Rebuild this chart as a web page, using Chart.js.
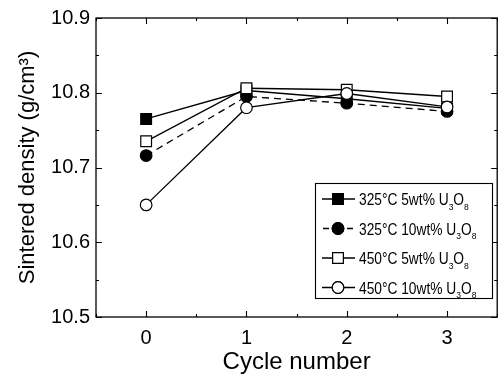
<!DOCTYPE html>
<html><head><meta charset="utf-8">
<script src="https://cdn.jsdelivr.net/npm/chart.js@4.4.1/dist/chart.umd.min.js"></script>
<style>
html,body{margin:0;padding:0;background:#fff;}
#wrap{width:498px;height:379px;overflow:hidden;position:relative;}
canvas{display:block;}
</style></head>
<body>
<div id="wrap"><canvas id="c" width="506" height="379"></canvas></div>
<script>
const cycles = [0, 1, 2, 3];
const seriesNames = ['325°C 5wt% U₃O₈', '325°C 10wt% U₃O₈', '450°C 5wt% U₃O₈', '450°C 10wt% U₃O₈'];
const d325_5  = [10.765, 10.803, 10.792, 10.779];
const d325_10 = [10.716, 10.795, 10.786, 10.775];
const d450_5  = [10.735, 10.806, 10.804, 10.795];
const d450_10 = [10.650, 10.780, 10.799, 10.781];
const xTickLabels = ['0', '1', '2', '3'];
const yTickLabels = ['10.5', '10.6', '10.7', '10.8', '10.9'];
const xTitle = 'Cycle number';
const yTitle = 'Sintered density (g/cm³)';

const FONT = '"Liberation Sans", Arial, sans-serif';
const styles = [
  {pointStyle: 'rect',   fill: '#000', dash: []},
  {pointStyle: 'circle', fill: '#000', dash: [7, 5]},
  {pointStyle: 'rect',   fill: '#fff', dash: []},
  {pointStyle: 'circle', fill: '#fff', dash: []}
];
const seriesData = [d325_5, d325_10, d450_5, d450_10];

const datasets = seriesData.map((arr, i) => ({
  label: seriesNames[i],
  data: arr.map((v, j) => ({x: cycles[j], y: v})),
  borderColor: '#000',
  borderWidth: 1.3,
  borderDash: styles[i].dash,
  pointStyle: styles[i].pointStyle,
  pointRadius: styles[i].pointStyle === 'rect' ? 7.6 : 5.8,
  pointBackgroundColor: styles[i].fill,
  pointBorderColor: '#000',
  pointBorderWidth: 1.2,
  fill: false,
  tension: 0,
  order: 3 - i
}));

// draw text (horizontally condensed) where subscript digits are rendered smaller and lowered
function drawRich(ctx, text, x, y, size, sx) {
  const subMap = {'₀':'0','₁':'1','₂':'2','₃':'3','₄':'4','₅':'5','₆':'6','₇':'7','₈':'8','₉':'9'};
  ctx.save();
  ctx.translate(x, y);
  ctx.scale(sx, 1);
  let cx = 0;
  ctx.textBaseline = 'alphabetic';
  ctx.textAlign = 'left';
  for (const ch of text) {
    if (subMap[ch]) {
      ctx.font = (size * 0.62) + 'px ' + FONT;
      ctx.fillText(subMap[ch], cx, size * 0.3);
      cx += ctx.measureText(subMap[ch]).width;
    } else {
      ctx.font = size + 'px ' + FONT;
      ctx.fillText(ch, cx, 0);
      cx += ctx.measureText(ch).width;
    }
  }
  ctx.restore();
}

const framePlugin = {
  id: 'frame',
  afterDatasetsDraw(chart) {
    const {ctx, chartArea: a, scales: {x, y}} = chart;
    ctx.save();
    ctx.strokeStyle = '#000';
    ctx.lineWidth = 1.3;
    ctx.setLineDash([]);
    ctx.strokeRect(a.left, a.top, a.right - a.left, a.bottom - a.top);
    ctx.lineWidth = 1.1;
    ctx.beginPath();
    for (let v = -0.5; v <= 3.5001; v += 0.5) {
      const px = Math.round(x.getPixelForValue(v)) + 0.5;
      const major = Math.abs(v - Math.round(v)) < 1e-6;
      const L = major ? 6 : 3;
      ctx.moveTo(px, a.bottom); ctx.lineTo(px, a.bottom - L);
      ctx.moveTo(px, a.top); ctx.lineTo(px, a.top + L);
    }
    for (let k = 0; k <= 8; k++) {
      const v = 10.5 + k * 0.05;
      const py = Math.round(y.getPixelForValue(v)) + 0.5;
      const L = (k % 2 === 0) ? 6 : 3;
      ctx.moveTo(a.left, py); ctx.lineTo(a.left + L, py);
      ctx.moveTo(a.right, py); ctx.lineTo(a.right - L, py);
    }
    ctx.stroke();
    ctx.restore();
  },
  afterDraw(chart) {
    const {ctx} = chart;
    const bx = 315, by = 183, bw = 177, bh = 115;
    ctx.save();
    ctx.fillStyle = '#fff';
    ctx.fillRect(bx, by, bw, bh);
    ctx.strokeStyle = '#000';
    ctx.lineWidth = 1.1;
    ctx.strokeRect(bx + 0.5, by + 0.5, bw, bh);
    chart.data.datasets.forEach((ds, i) => {
      const cy = by + 16 + i * 29.5;
      ctx.strokeStyle = '#000';
      ctx.lineWidth = 1.3;
      ctx.beginPath();
      if (ds.borderDash && ds.borderDash.length) {
        ctx.moveTo(323, cy); ctx.lineTo(329, cy);
        ctx.moveTo(347, cy); ctx.lineTo(353, cy);
      } else {
        ctx.moveTo(322, cy); ctx.lineTo(355, cy);
      }
      ctx.stroke();
      ctx.lineWidth = 1.2;
      Chart.helpers.drawPoint(ctx, {pointStyle: ds.pointStyle, radius: ds.pointRadius, rotation: 0, borderWidth: 1.2}, 338, cy);
      ctx.fillStyle = ds.pointBackgroundColor;
      ctx.fill();
      ctx.stroke();
      ctx.fillStyle = '#000';
      drawRich(ctx, ds.label, 359, cy + 6, 16, 0.86);
    });
    ctx.restore();
  }
};

new Chart(document.getElementById('c'), {
  type: 'line',
  data: {datasets},
  options: {
    responsive: false,
    animation: false,
    devicePixelRatio: 1,
    layout: {padding: {top: 18, right: 5, left: 0, bottom: 0}},
    plugins: {legend: {display: false}, tooltip: {enabled: false}},
    scales: {
      x: {
        type: 'linear', min: -0.5, max: 3.5,
        grid: {display: false, drawTicks: false},
        border: {display: false},
        afterFit(s) { s.height = 62; },
        afterBuildTicks(s) { s.ticks = cycles.map(v => ({value: v})); },
        ticks: {
          padding: 9, color: '#000', maxRotation: 0, autoSkip: false,
          font: {family: FONT, size: 20},
          callback: (v) => { const i = cycles.indexOf(v); return i >= 0 ? xTickLabels[i] : ''; }
        },
        title: {display: true, text: xTitle, color: '#000', font: {family: FONT, size: 24}, padding: {top: 0, bottom: 2}}
      },
      y: {
        type: 'linear', min: 10.5, max: 10.9,
        grid: {display: false, drawTicks: false},
        border: {display: false},
        afterFit(s) { s.width = 96; },
        afterBuildTicks(s) { s.ticks = yTickLabels.map(t => ({value: parseFloat(t)})); },
        ticks: {
          padding: 6, color: '#000', autoSkip: false,
          font: {family: FONT, size: 20},
          callback: (v) => { const i = yTickLabels.map(parseFloat).findIndex(t => Math.abs(t - v) < 1e-6); return i >= 0 ? yTickLabels[i] : ''; }
        },
        title: {display: true, text: yTitle, color: '#000', font: {family: FONT, size: 22}, padding: {top: 15, bottom: 0}}
      }
    }
  },
  plugins: [framePlugin]
});
</script>
</body></html>
